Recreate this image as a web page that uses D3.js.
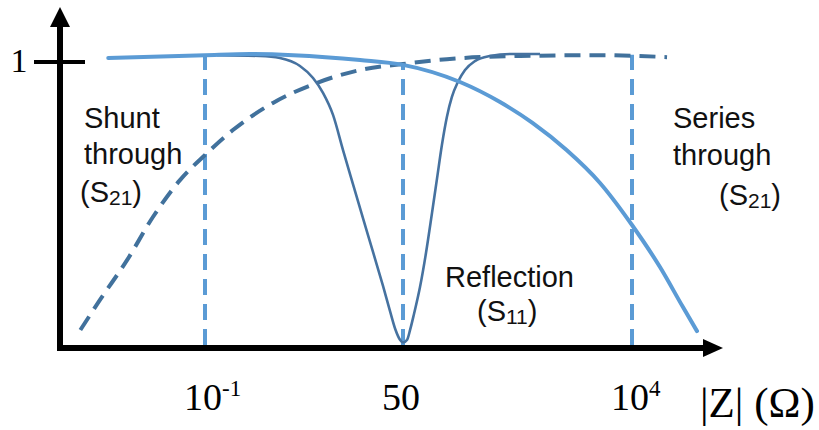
<!DOCTYPE html>
<html>
<head>
<meta charset="utf-8">
<script src="https://cdn.jsdelivr.net/npm/d3@7"></script>
<style>
  body { margin: 0; background: #fff; }
  svg { display: block; }
</style>
</head>
<body>
<svg id="chart" width="819" height="430"></svg>
<script>
// Series-through |S21| versus load impedance |Z| (ohms)
const seriesZ   = [0.0048, 0.1, 0.41, 1.6, 13, 50, 187, 472, 1000, 2200, 4770, 1e4, 19100, 32500, 45000];
const seriesMag = [1.014, 1.024, 1.028, 1.024, 1.007, 0.990, 0.930, 0.860, 0.787, 0.692, 0.577, 0.430, 0.283, 0.143, 0.059];

// Shunt-through |S21|
const shuntZ   = [0.002, 0.0037, 0.0087, 0.0195, 0.0456, 0.1, 0.24, 0.845, 3.36, 13, 50, 138, 750, 4770, 22500];
const shuntMag = [0.063, 0.168, 0.308, 0.458, 0.587, 0.675, 0.762, 0.857, 0.927, 0.972, 0.993, 1.010, 1.021, 1.024, 1.017];

// Reflection |S11|, null at the 50-ohm reference
const reflZ   = [0.146, 0.56, 1.05, 1.97, 2.97, 4.06, 5.56, 7.61, 10.4, 14.2, 19.5, 26.7, 33.2, 39.5, 45.5, 50,
                 55, 59, 64.5, 74.1, 85.1, 97.8, 110, 123, 138, 155, 178, 210, 264, 374, 594, 1190];
const reflMag = [1.024, 1.021, 1.014, 0.986, 0.944, 0.892, 0.815, 0.692, 0.573, 0.455, 0.336, 0.217, 0.130, 0.064, 0.029, 0.019,
                 0.029, 0.064, 0.119, 0.213, 0.332, 0.472, 0.594, 0.710, 0.808, 0.878, 0.930, 0.972, 1.003, 1.021, 1.028, 1.028];

// Axis ticks
const xTickValues = [0.1, 50, 1e4];
const xTickBase   = ["10", "50", "10"];
const xTickSup    = ["-1", "", "4"];
const yTickValues = [1];
const yTickLabels = ["1"];
// Guide lines at the tick impedances, drawn up to these magnitudes
const guideTop = [1.025, 0.995, 1.025];

const svg = d3.select("#chart");

// Schematic, piecewise logarithmic impedance axis
const x = d3.scaleLog().domain([0.1, 50, 1e4]).range([205, 403, 632]);
const y = d3.scaleLinear().domain([0, 1]).range([348, 62]);

const lightBlue = "#5b9bd5";
const darkBlue  = "#41719c";

const line = d3.line()
  .x(d => x(d[0]))
  .y(d => y(d[1]))
  .curve(d3.curveMonotoneX);

// Vertical guide lines
svg.append("g").selectAll("line")
  .data(xTickValues)
  .join("line")
  .attr("x1", d => x(d)).attr("x2", d => x(d))
  .attr("y1", y(0) - 3)
  .attr("y2", (d, i) => y(guideTop[i]))
  .attr("stroke", lightBlue)
  .attr("stroke-width", 4)
  .attr("stroke-dasharray", "16,9");

// Shunt-through trace (dashed)
svg.append("path")
  .datum(d3.zip(shuntZ, shuntMag))
  .attr("d", line)
  .attr("fill", "none")
  .attr("stroke", darkBlue)
  .attr("stroke-width", 4)
  .attr("stroke-dasharray", "16,9");

// Reflection trace
svg.append("path")
  .datum(d3.zip(reflZ, reflMag))
  .attr("d", line)
  .attr("fill", "none")
  .attr("stroke", "#4672a0")
  .attr("stroke-width", 2.6);

// Series-through trace
svg.append("path")
  .datum(d3.zip(seriesZ, seriesMag))
  .attr("d", line)
  .attr("fill", "none")
  .attr("stroke", lightBlue)
  .attr("stroke-width", 4)
  .attr("stroke-linecap", "round");

// Axes with arrowheads
const axisX0 = 60;
const axes = svg.append("g");
axes.append("line")
  .attr("x1", 57).attr("x2", 706)
  .attr("y1", y(0)).attr("y2", y(0))
  .attr("stroke", "#000").attr("stroke-width", 6);
axes.append("path")
  .attr("d", `M723,${y(0)} L703,${y(0) - 9} L703,${y(0) + 9} Z`)
  .attr("fill", "#000");
axes.append("line")
  .attr("x1", axisX0).attr("x2", axisX0)
  .attr("y1", y(0) + 3).attr("y2", 24)
  .attr("stroke", "#000").attr("stroke-width", 6);
axes.append("path")
  .attr("d", `M${axisX0},7 L${axisX0 - 10},27 L${axisX0 + 10},27 Z`)
  .attr("fill", "#000");

// Y tick and label
axes.selectAll(".ytick")
  .data(yTickValues)
  .join("line")
  .attr("class", "ytick")
  .attr("x1", 34).attr("x2", 85)
  .attr("y1", d => y(d)).attr("y2", d => y(d))
  .attr("stroke", "#000").attr("stroke-width", 4);
axes.selectAll(".ylab")
  .data(yTickValues)
  .join("text")
  .attr("class", "ylab")
  .attr("x", 19)
  .attr("y", d => y(d) + 10)
  .attr("text-anchor", "middle")
  .attr("font-family", "'Liberation Serif', 'Times New Roman', serif")
  .attr("font-size", 34)
  .text((d, i) => yTickLabels[i]);

// X tick labels with superscripts, base number starting just left of the tick
const xl = axes.selectAll(".xlab")
  .data(xTickValues)
  .join("text")
  .attr("class", "xlab")
  .attr("x", d => x(d) - 21)
  .attr("y", 410)
  .attr("font-family", "'Liberation Serif', 'Times New Roman', serif")
  .attr("font-size", 38);
xl.append("tspan").text((d, i) => xTickBase[i]);
xl.append("tspan")
  .attr("font-size", 23)
  .attr("dy", -14)
  .text((d, i) => xTickSup[i]);

// Impedance axis title
svg.append("text")
  .attr("x", 700).attr("y", 417)
  .attr("font-family", "'Liberation Serif', 'Times New Roman', serif")
  .attr("font-size", 43)
  .text("|Z| (Ω)");

// Trace annotations
const sans = "'Liberation Sans', Arial, sans-serif";
function note(lines, xs, ys) {
  const t = svg.append("text")
    .attr("font-family", sans)
    .attr("font-size", 29)
    .attr("fill", "#111");
  lines.forEach((ln, i) => {
    const row = t.append("tspan").attr("x", xs[i]).attr("y", ys[i]);
    if (Array.isArray(ln)) {
      row.append("tspan").text(ln[0]);
      row.append("tspan").attr("font-size", 21).attr("dy", 3).text(ln[1]);
      row.append("tspan").attr("dy", -3).text(ln[2]);
    } else {
      row.text(ln);
    }
  });
}
note(["Shunt", "through", ["(S", "21", ")"]], [84, 84, 80], [128, 164, 202]);
note(["Series", "through", ["(S", "21", ")"]], [673, 673, 719], [128, 165, 205]);
note(["Reflection", ["(S", "11", ")"]], [445, 477], [287, 321]);
</script>
</body>
</html>
